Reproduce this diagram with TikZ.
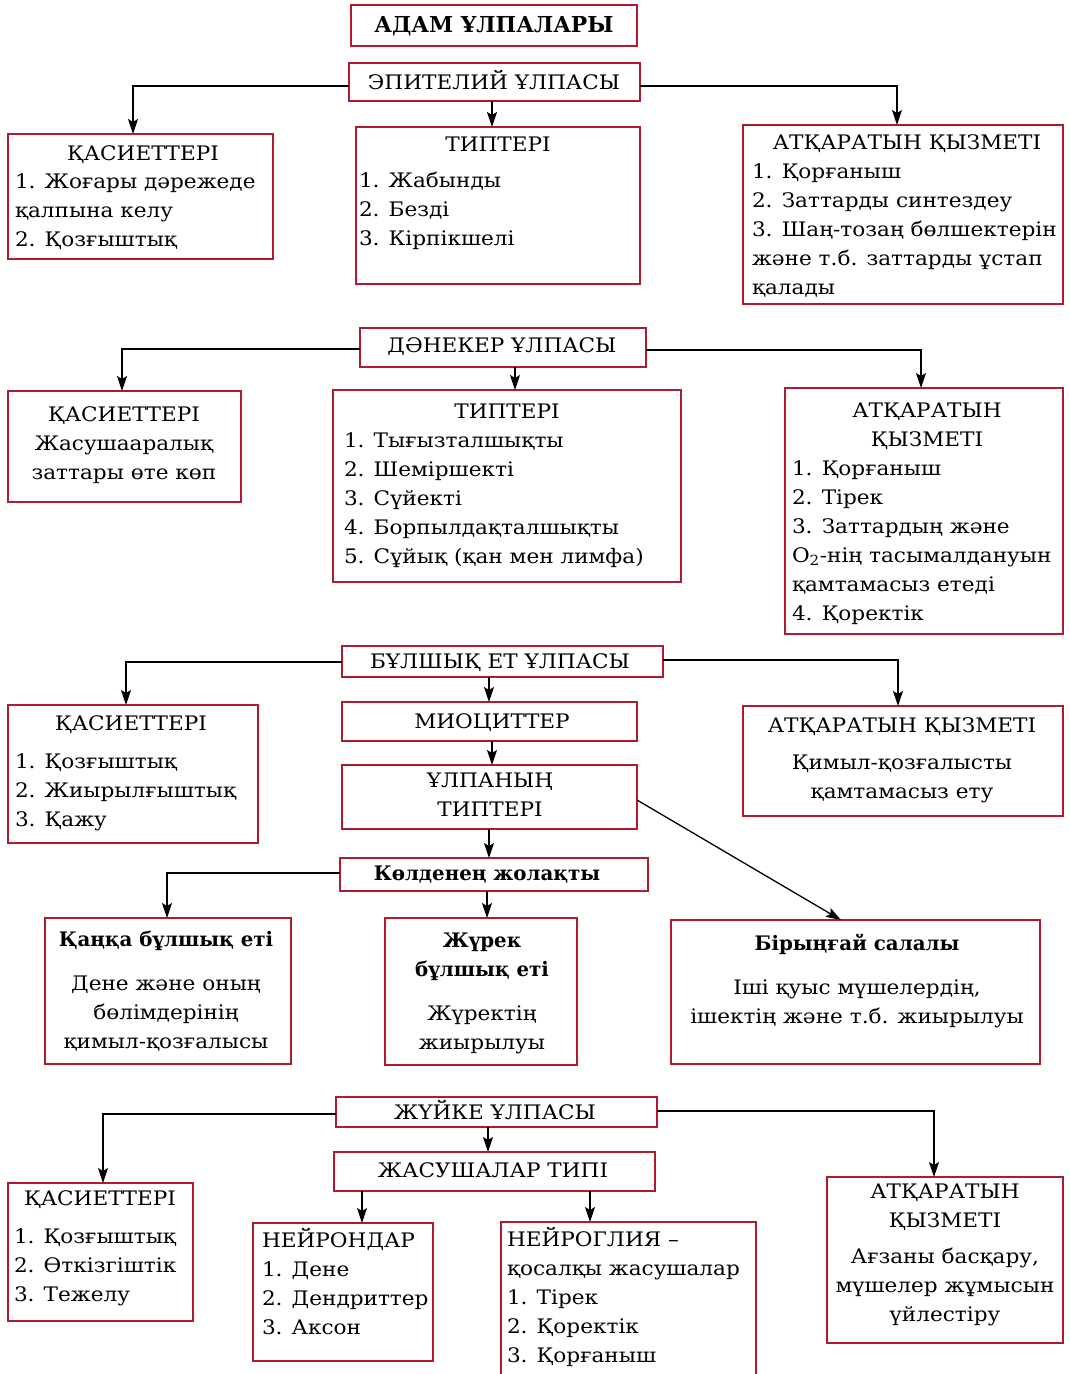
\documentclass[tikz,border=0pt]{standalone}
\usepackage{fontspec}
\setmainfont{DejaVu Serif}[FakeStretch=1.08,BoldFeatures={FakeStretch=0.99}]
\usetikzlibrary{arrows.meta,calc}
\definecolor{bred}{HTML}{B01C2E}
\begin{document}
\begin{tikzpicture}[x=1pt,y=-1pt,
  box/.style={draw=bred,line width=2.8pt,inner sep=0pt,outer sep=0pt,anchor=north west},
  tx/.style={inner sep=0pt,outer sep=0pt,font=\fontsize{20}{29}\selectfont},
  tl/.style={tx,anchor=north west,align=left},
  tc/.style={tx,anchor=north,align=center},
  arr/.style={draw=black,line width=1.3pt,-{Stealth[length=15pt,width=10pt,inset=3pt]}},
  ln/.style={draw=black,line width=1.3pt}]
\useasboundingbox (0,0) rectangle (1069,1374);
\newcommand\bx[5]{\node[box,minimum width={#4-#2},minimum height={#5-#3}] (#1) at (#2,#3) {};}
% #1 name #2 x #3 first baseline #4 text
\newcommand\tL[4]{\node[tl] (#1) at (#2,{#3-20.3}) {\strut #4};}
\newcommand\tC[4]{\node[tc] (#1) at (#2,{#3-20.3}) {\strut #4};}
% ===== Section 1
\bx{top}{351}{5}{637}{46}
\tC{topt}{494}{32}{\bfseries\fontsize{22}{29}\selectfont АДАМ ҰЛПАЛАРЫ}
\bx{epi}{349}{63}{640}{101}
\tC{epit}{494}{89}{ЭПИТЕЛИЙ ҰЛПАСЫ}
\bx{ekas}{8}{134}{273}{259}
\tC{ekast}{143}{160}{ҚАСИЕТТЕРІ}
\tL{ekasl}{15}{188}{1. Жоғары дәрежеде\\қалпына келу\\2. Қозғыштық}
\bx{etyp}{356}{127}{640}{284}
\tC{etypt}{498}{151}{ТИПТЕРІ}
\tL{etypl}{359}{187}{1. Жабынды\\2. Безді\\3. Кірпікшелі}
\bx{eatk}{743}{125}{1063}{304}
\tC{eatkt}{907}{149}{АТҚАРАТЫН ҚЫЗМЕТІ}
\tL{eatkl}{752}{178}{1. Қорғаныш\\2. Заттарды синтездеу\\3. Шаң-тозаң бөлшектерін\\және т.б. заттарды ұстап\\қалады}
\draw[arr] (epi.west |- 0,86) -| (ekas.north -| 133,0);
\draw[arr] (epi.east |- 0,86) -| (eatk.north -| 897,0);
\draw[arr] (epi.south -| 492,0) -- (etyp.north -| 492,0);
% ===== Section 2
\bx{den}{360}{328}{646}{367}
\tC{dent}{502}{352}{ДӘНЕКЕР ҰЛПАСЫ}
\bx{dkas}{8}{391}{241}{502}
\tC{dkast}{124}{421}{ҚАСИЕТТЕРІ\\Жасушааралық\\заттары өте көп}
\bx{dtyp}{333}{390}{681}{582}
\tC{dtypt}{507}{418}{ТИПТЕРІ}
\tL{dtypl}{344}{447}{1. Тығызталшықты\\2. Шеміршекті\\3. Сүйекті\\4. Борпылдақталшықты\\5. Сұйық (қан мен лимфа)}
\bx{datk}{785}{388}{1063}{634}
\tC{datkt}{927}{417}{АТҚАРАТЫН\\ҚЫЗМЕТІ}
\tL{datkl}{792}{475}{1. Қорғаныш\\2. Тірек\\3. Заттардың және\\O\textsubscript{2}-нің тасымалдануын\\қамтамасыз етеді\\4. Қоректік}
\draw[arr] (den.west |- 0,349) -| (dkas.north -| 122,0);
\draw[arr] (den.east |- 0,350) -| (datk.north -| 921,0);
\draw[arr] (den.south -| 515,0) -- (dtyp.north -| 515,0);
% ===== Section 3
\bx{bul}{342}{646}{663}{677}
\tC{bult}{500}{668}{БҰЛШЫҚ ЕТ ҰЛПАСЫ}
\bx{bkas}{8}{705}{258}{843}
\tC{bkast}{131}{730}{ҚАСИЕТТЕРІ}
\tL{bkasl}{15}{768}{1. Қозғыштық\\2. Жиырылғыштық\\3. Қажу}
\bx{mio}{342}{702}{637}{741}
\tC{miot}{492}{728}{МИОЦИТТЕР}
\bx{ulp}{342}{765}{637}{829}
\tC{ulpt}{490}{787}{ҰЛПАНЫҢ\\ТИПТЕРІ}
\bx{batk}{743}{706}{1063}{816}
\tC{batkt}{902}{732}{АТҚАРАТЫН ҚЫЗМЕТІ\\[8pt]Қимыл-қозғалысты\\қамтамасыз ету}
\bx{kol}{340}{858}{648}{891}
\tC{kolt}{487}{880}{\bfseries Көлденең жолақты}
\bx{kan}{45}{918}{291}{1064}
\tC{kant}{166}{946}{\bfseries Қаңқа бұлшық еті\\[15pt]Дене және оның\\бөлімдерінің\\қимыл-қозғалысы}
\bx{zhu}{385}{918}{577}{1065}
\tC{zhut}{482}{947}{\bfseries Жүрек\\\bfseries бұлшық еті\\[15pt]Жүректің\\жиырылуы}
\bx{bir}{671}{920}{1040}{1064}
\tC{birt}{857}{950}{\bfseries Бірыңғай салалы\\[15pt]Іші қуыс мүшелердің,\\ішектің және т.б. жиырылуы}
\draw[arr] (bul.west |- 0,662) -| (bkas.north -| 126,0);
\draw[arr] (bul.east |- 0,660) -| (batk.north -| 898,0);
\draw[arr] (bul.south -| 489,0) -- (mio.north -| 489,0);
\draw[arr] (mio.south -| 492,0) -- (ulp.north -| 492,0);
\draw[arr] (ulp.south -| 489,0) -- (kol.north -| 489,0);
\draw[arr] (ulp.east |- 0,800) -- (bir.north -| 841,0);
\draw[arr] (kol.west |- 0,873) -| (kan.north -| 167,0);
\draw[arr] (kol.south -| 487,0) -- (zhu.north -| 487,0);
% ===== Section 4
\bx{zhy}{336}{1097}{657}{1127}
\tC{zhyt}{495}{1119}{ЖҮЙКЕ ҰЛПАСЫ}
\bx{jas}{334}{1152}{655}{1191}
\tC{jast}{493}{1177}{ЖАСУШАЛАР ТИПІ}
\bx{zkas}{8}{1183}{193}{1321}
\tC{zkast}{100}{1205}{ҚАСИЕТТЕРІ}
\tL{zkasl}{14}{1243}{1. Қозғыштық\\2. Өткізгіштік\\3. Тежелу}
\bx{ney}{253}{1223}{433}{1361}
\tL{neyl}{262}{1247}{НЕЙРОНДАР\\1. Дене\\2. Дендриттер\\3. Аксон}
\bx{neg}{501}{1222}{756}{1400}
\tL{negl}{507}{1246}{НЕЙРОГЛИЯ –\\қосалқы жасушалар\\1. Тірек\\2. Қоректік\\3. Қорғаныш}
\bx{zatk}{827}{1177}{1063}{1343}
\tC{zatkt}{945}{1198}{АТҚАРАТЫН\\ҚЫЗМЕТІ\\[7pt]Ағзаны басқару,\\мүшелер жұмысын\\үйлестіру}
\draw[arr] (zhy.west |- 0,1114) -| (zkas.north -| 103,0);
\draw[arr] (zhy.east |- 0,1111) -| (zatk.north -| 934,0);
\draw[arr] (zhy.south -| 488,0) -- (jas.north -| 488,0);
\draw[arr] (jas.south -| 362,0) -- (ney.north -| 362,0);
\draw[arr] (jas.south -| 590,0) -- (neg.north -| 590,0);
\end{tikzpicture}
\end{document}
